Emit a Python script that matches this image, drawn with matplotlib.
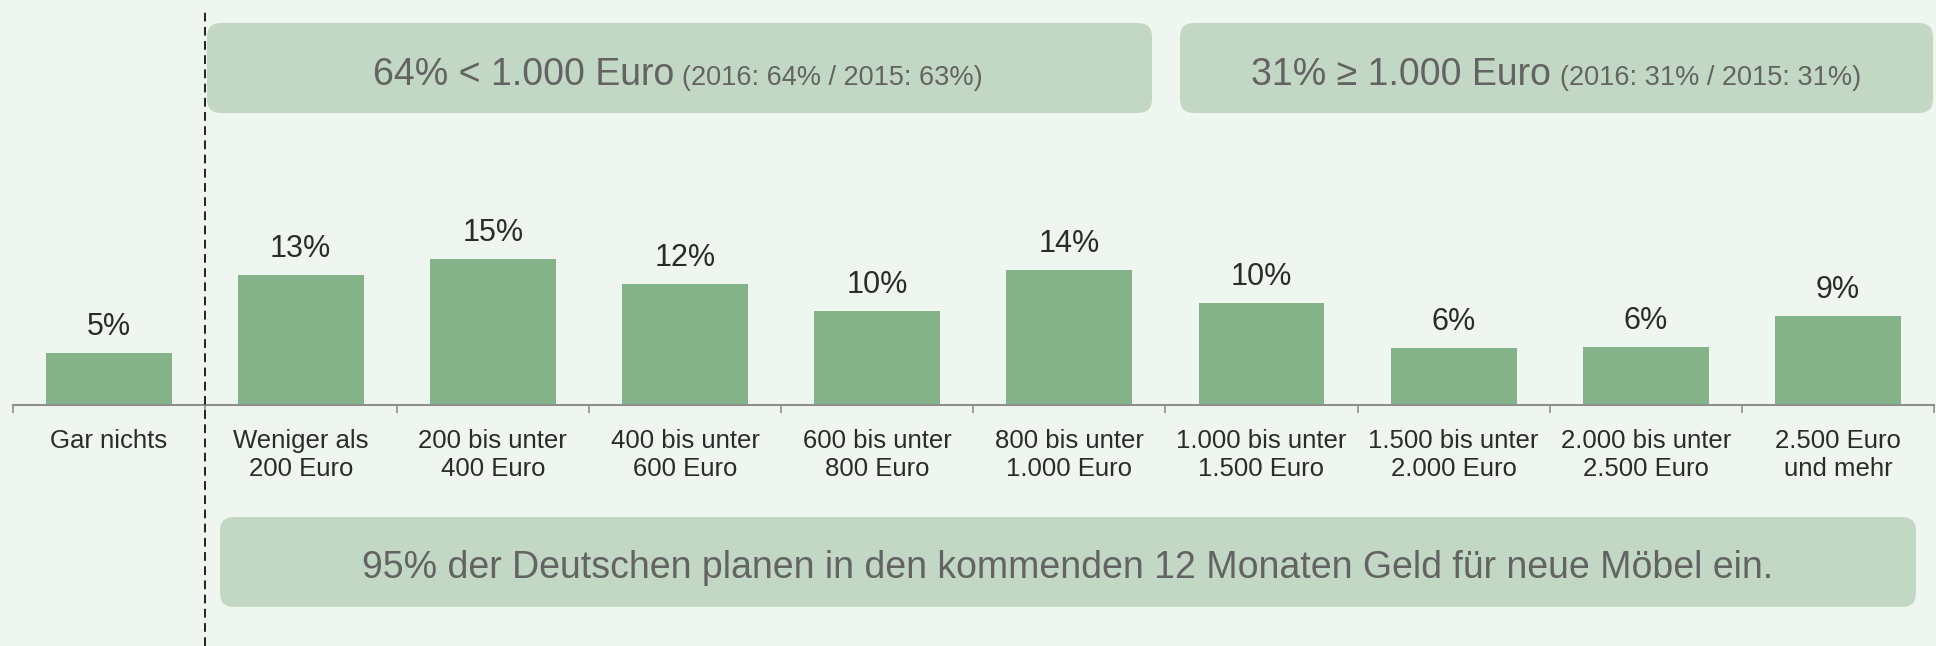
import matplotlib
matplotlib.use("Agg")
import matplotlib.pyplot as plt
from matplotlib.patches import FancyBboxPatch
from matplotlib.transforms import IdentityTransform
from matplotlib.offsetbox import TextArea, HPacker, AnchoredOffsetbox

plt.rcParams['font.family'] = ['Liberation Sans', 'DejaVu Sans']

# Daten
kategorien = ['Gar nichts', 'Weniger als\n200 Euro', '200 bis unter\n400 Euro',
              '400 bis unter\n600 Euro', '600 bis unter\n800 Euro', '800 bis unter\n1.000 Euro',
              '1.000 bis unter\n1.500 Euro', '1.500 bis unter\n2.000 Euro',
              '2.000 bis unter\n2.500 Euro', '2.500 Euro\nund mehr']
anteile = [5.3, 13.3, 14.9, 12.4, 9.6, 13.8, 10.4, 5.8, 5.9, 9.1]
box_links = ('64% < 1.000 Euro', '(2016: 64% / 2015: 63%)')
box_rechts = ('31% \u2265 1.000 Euro', '(2016: 31% / 2015: 31%)')
fazit = '95% der Deutschen planen in den kommenden 12 Monaten Geld für neue Möbel ein.'

BG = '#EEF6EF'
BAR = '#84B38A'
BOX = '#C2D8C4'
BOXTXT = '#636363'
TXT = '#2B2B2B'

W, H = 1936, 646
fig = plt.figure(figsize=(W / 100, H / 100), dpi=100, facecolor=BG)

# Achse: x von 12.5 bis 1934 px, Grundlinie bei 405 px von oben
ax = fig.add_axes([12.5 / W, 1 - 405 / H, (1934 - 12.5) / W, 405 / H])
ax.set_facecolor(BG)
x = list(range(len(kategorien)))
ax.bar(x, anteile, width=0.655, color=BAR, zorder=2)
ax.set_xlim(-0.5, len(kategorien) - 0.5)
ax.set_ylim(0, 405 / 9.77)

for xi, v in zip(x, anteile):
    ax.annotate(f'{v:.0f}%', (xi, v), xytext=(0, 13), textcoords='offset points',
                ha='center', va='baseline', fontsize=22, color=TXT)

for s in ['top', 'left', 'right']:
    ax.spines[s].set_visible(False)
ax.spines['bottom'].set_color('#8F8F8F')
ax.spines['bottom'].set_linewidth(1.5)
ax.set_yticks([])
ax.set_xticks(x)
ax.set_xticklabels(kategorien, fontsize=18.5, color=TXT, linespacing=1.25)
ax.tick_params(axis='x', which='major', length=0, pad=17)
ax.set_xticks([i - 0.5 for i in range(len(kategorien) + 1)], minor=True)
ax.tick_params(axis='x', which='minor', length=6, width=1.2, color='#8F8F8F')

# gestrichelte Trennlinie
ax.axvline(0.5, ymin=(405 - 646) / 405, ymax=(405 - 12) / 405, color='#222222',
           lw=1.4, linestyle=(0, (4.5, 2.8)), clip_on=False, zorder=3)


def kasten(x0, y0, x1, y1):
    # Koordinaten in Pixel, y von oben gemessen
    p = FancyBboxPatch((x0, H - y1), x1 - x0, y1 - y0,
                       boxstyle='round,pad=0,rounding_size=14',
                       transform=IdentityTransform(), facecolor=BOX, edgecolor='none')
    fig.add_artist(p)


def kastentext(teile, cx, cy, groessen):
    boxen = [TextArea(t, textprops=dict(fontsize=g, color=BOXTXT)) for t, g in zip(teile, groessen)]
    pack = HPacker(children=boxen, align='baseline', pad=0, sep=6)
    ab = AnchoredOffsetbox(loc='center', child=pack, frameon=False, pad=0, borderpad=0,
                           bbox_to_anchor=(cx / W, 1 - cy / H), bbox_transform=fig.transFigure)
    fig.add_artist(ab)


kasten(207, 23, 1152, 113)
kasten(1180, 23, 1933, 113)
kasten(220, 517, 1916, 607)

kastentext(box_links, 678, 75, (27, 19.5))
kastentext(box_rechts, 1556, 75, (27, 19.5))
fig.text(1068 / W, 1 - 568 / H, fazit, ha='center', va='center', fontsize=27, color=BOXTXT)

fig.savefig('out.png', dpi=100, facecolor=BG)
